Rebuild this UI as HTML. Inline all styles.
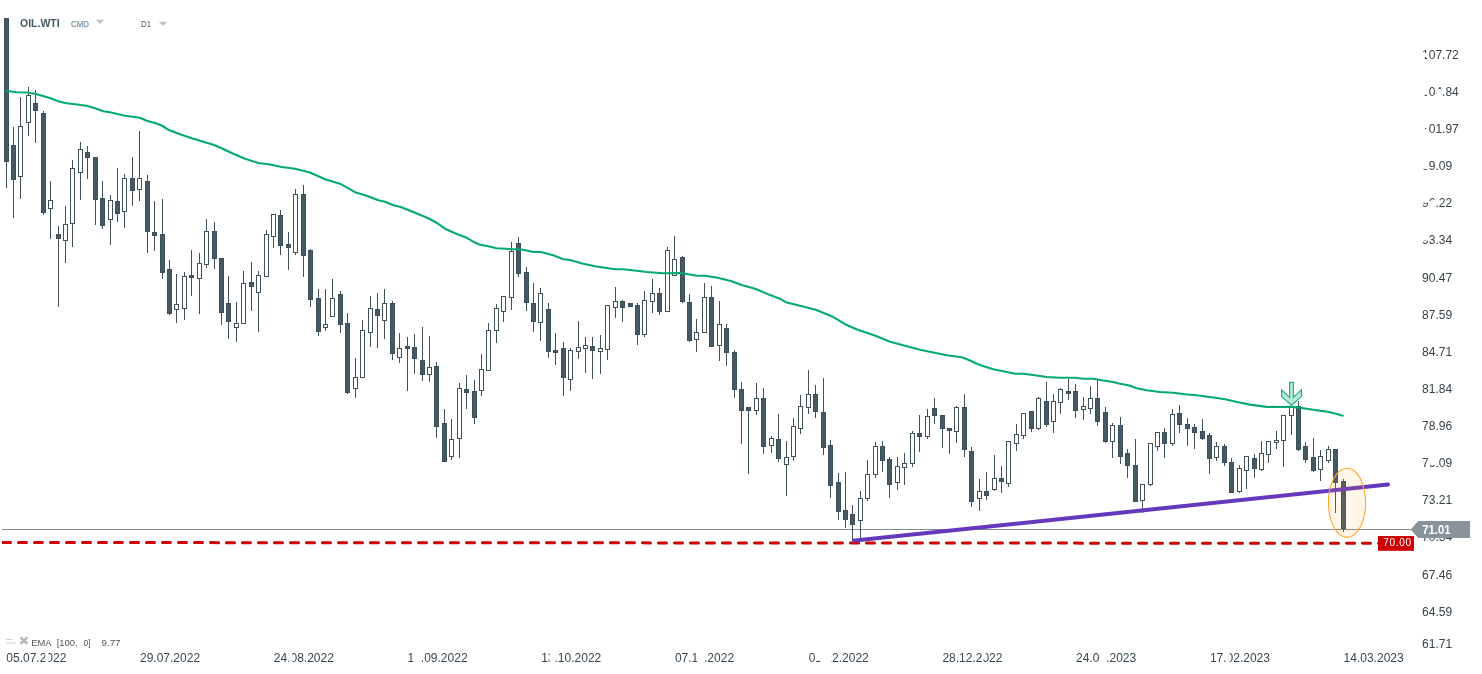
<!DOCTYPE html>
<html lang="en"><head><meta charset="utf-8"><title>OIL.WTI D1</title>
<style>html,body{margin:0;padding:0;background:#fff}body{width:1482px;height:674px;overflow:hidden;position:relative}svg{display:block;position:absolute;left:0;top:0}text{font-family:"Liberation Sans",sans-serif}</style>
</head><body>
<svg width="1482" height="674" viewBox="0 0 1482 674">
<rect width="1482" height="674" fill="#fff"/>
<rect x="2" y="529" width="1411" height="1" fill="#7f8d93"/>
<g shape-rendering="crispEdges">
<rect x="6" y="18" width="1" height="170" fill="#405159"/>
<rect x="4" y="18" width="5" height="144" fill="#3c505b"/>
<rect x="5" y="19" width="3" height="142" fill="#465a65"/>
<rect x="13" y="127" width="1" height="91" fill="#405159"/>
<rect x="11" y="145" width="5" height="35" fill="#3c505b"/>
<rect x="12" y="146" width="3" height="33" fill="#465a65"/>
<rect x="20" y="97" width="1" height="29" fill="#405159"/>
<rect x="20" y="177" width="1" height="22" fill="#405159"/>
<rect x="18.5" y="126.5" width="4" height="50" fill="#fff" stroke="#405159" stroke-width="1"/>
<rect x="28" y="87" width="1" height="8" fill="#405159"/>
<rect x="28" y="123" width="1" height="13" fill="#405159"/>
<rect x="26.5" y="95.5" width="4" height="27" fill="#fff" stroke="#405159" stroke-width="1"/>
<rect x="35" y="90" width="1" height="53" fill="#405159"/>
<rect x="33" y="103" width="5" height="8" fill="#3c505b"/>
<rect x="34" y="104" width="3" height="6" fill="#465a65"/>
<rect x="43" y="111" width="1" height="104" fill="#405159"/>
<rect x="41" y="113" width="5" height="100" fill="#3c505b"/>
<rect x="42" y="114" width="3" height="98" fill="#465a65"/>
<rect x="50" y="181" width="1" height="19" fill="#405159"/>
<rect x="50" y="209" width="1" height="30" fill="#405159"/>
<rect x="48.5" y="200.5" width="4" height="8" fill="#fff" stroke="#405159" stroke-width="1"/>
<rect x="58" y="226" width="1" height="81" fill="#405159"/>
<rect x="56" y="234" width="5" height="5" fill="#3c505b"/>
<rect x="57" y="235" width="3" height="3" fill="#465a65"/>
<rect x="65" y="206" width="1" height="18" fill="#405159"/>
<rect x="65" y="241" width="1" height="22" fill="#405159"/>
<rect x="63.5" y="224.5" width="4" height="16" fill="#fff" stroke="#405159" stroke-width="1"/>
<rect x="72" y="160" width="1" height="8" fill="#405159"/>
<rect x="72" y="224" width="1" height="23" fill="#405159"/>
<rect x="70.5" y="168.5" width="4" height="55" fill="#fff" stroke="#405159" stroke-width="1"/>
<rect x="80" y="142" width="1" height="7" fill="#405159"/>
<rect x="80" y="173" width="1" height="27" fill="#405159"/>
<rect x="78.5" y="149.5" width="4" height="23" fill="#fff" stroke="#405159" stroke-width="1"/>
<rect x="87" y="146" width="1" height="33" fill="#405159"/>
<rect x="85" y="152" width="5" height="6" fill="#3c505b"/>
<rect x="86" y="153" width="3" height="4" fill="#465a65"/>
<rect x="95" y="157" width="1" height="68" fill="#405159"/>
<rect x="93" y="157" width="5" height="43" fill="#3c505b"/>
<rect x="94" y="158" width="3" height="41" fill="#465a65"/>
<rect x="102" y="181" width="1" height="48" fill="#405159"/>
<rect x="100" y="198" width="5" height="28" fill="#3c505b"/>
<rect x="101" y="199" width="3" height="26" fill="#465a65"/>
<rect x="110" y="195" width="1" height="5" fill="#405159"/>
<rect x="110" y="220" width="1" height="25" fill="#405159"/>
<rect x="108.5" y="200.5" width="4" height="19" fill="#fff" stroke="#405159" stroke-width="1"/>
<rect x="117" y="168" width="1" height="54" fill="#405159"/>
<rect x="115" y="201" width="5" height="13" fill="#3c505b"/>
<rect x="116" y="202" width="3" height="11" fill="#465a65"/>
<rect x="124" y="174" width="1" height="4" fill="#405159"/>
<rect x="124" y="212" width="1" height="16" fill="#405159"/>
<rect x="122.5" y="178.5" width="4" height="33" fill="#fff" stroke="#405159" stroke-width="1"/>
<rect x="132" y="157" width="1" height="49" fill="#405159"/>
<rect x="130" y="178" width="5" height="13" fill="#3c505b"/>
<rect x="131" y="179" width="3" height="11" fill="#465a65"/>
<rect x="139" y="131" width="1" height="47" fill="#405159"/>
<rect x="139" y="190" width="1" height="11" fill="#405159"/>
<rect x="137.5" y="178.5" width="4" height="11" fill="#fff" stroke="#405159" stroke-width="1"/>
<rect x="147" y="175" width="1" height="78" fill="#405159"/>
<rect x="145" y="181" width="5" height="51" fill="#3c505b"/>
<rect x="146" y="182" width="3" height="49" fill="#465a65"/>
<rect x="154" y="201" width="1" height="50" fill="#405159"/>
<rect x="152" y="232" width="5" height="4" fill="#3c505b"/>
<rect x="153" y="233" width="3" height="2" fill="#465a65"/>
<rect x="162" y="199" width="1" height="80" fill="#405159"/>
<rect x="160" y="234" width="5" height="39" fill="#3c505b"/>
<rect x="161" y="235" width="3" height="37" fill="#465a65"/>
<rect x="169" y="260" width="1" height="55" fill="#405159"/>
<rect x="167" y="269" width="5" height="45" fill="#3c505b"/>
<rect x="168" y="270" width="3" height="43" fill="#465a65"/>
<rect x="176" y="274" width="1" height="30" fill="#405159"/>
<rect x="176" y="310" width="1" height="13" fill="#405159"/>
<rect x="174.5" y="304.5" width="4" height="5" fill="#fff" stroke="#405159" stroke-width="1"/>
<rect x="184" y="272" width="1" height="4" fill="#405159"/>
<rect x="184" y="309" width="1" height="11" fill="#405159"/>
<rect x="182.5" y="276.5" width="4" height="32" fill="#fff" stroke="#405159" stroke-width="1"/>
<rect x="191" y="250" width="1" height="46" fill="#405159"/>
<rect x="189" y="275" width="5" height="3" fill="#3c505b"/>
<rect x="190" y="276" width="3" height="1" fill="#465a65"/>
<rect x="199" y="253" width="1" height="10" fill="#405159"/>
<rect x="199" y="279" width="1" height="35" fill="#405159"/>
<rect x="197.5" y="263.5" width="4" height="15" fill="#fff" stroke="#405159" stroke-width="1"/>
<rect x="206" y="219" width="1" height="12" fill="#405159"/>
<rect x="206" y="265" width="1" height="3" fill="#405159"/>
<rect x="204.5" y="231.5" width="4" height="33" fill="#fff" stroke="#405159" stroke-width="1"/>
<rect x="214" y="222" width="1" height="47" fill="#405159"/>
<rect x="212" y="231" width="5" height="28" fill="#3c505b"/>
<rect x="213" y="232" width="3" height="26" fill="#465a65"/>
<rect x="221" y="258" width="1" height="67" fill="#405159"/>
<rect x="219" y="258" width="5" height="55" fill="#3c505b"/>
<rect x="220" y="259" width="3" height="53" fill="#465a65"/>
<rect x="228" y="276" width="1" height="63" fill="#405159"/>
<rect x="226" y="303" width="5" height="19" fill="#3c505b"/>
<rect x="227" y="304" width="3" height="17" fill="#465a65"/>
<rect x="236" y="302" width="1" height="21" fill="#405159"/>
<rect x="236" y="328" width="1" height="14" fill="#405159"/>
<rect x="234.5" y="323.5" width="4" height="4" fill="#fff" stroke="#405159" stroke-width="1"/>
<rect x="243" y="271" width="1" height="12" fill="#405159"/>
<rect x="241.5" y="283.5" width="4" height="40" fill="#fff" stroke="#405159" stroke-width="1"/>
<rect x="251" y="262" width="1" height="49" fill="#405159"/>
<rect x="249" y="282" width="5" height="5" fill="#3c505b"/>
<rect x="250" y="283" width="3" height="3" fill="#465a65"/>
<rect x="258" y="271" width="1" height="4" fill="#405159"/>
<rect x="258" y="293" width="1" height="39" fill="#405159"/>
<rect x="256.5" y="275.5" width="4" height="17" fill="#fff" stroke="#405159" stroke-width="1"/>
<rect x="266" y="230" width="1" height="4" fill="#405159"/>
<rect x="264.5" y="234.5" width="4" height="42" fill="#fff" stroke="#405159" stroke-width="1"/>
<rect x="273" y="237" width="1" height="11" fill="#405159"/>
<rect x="271.5" y="214.5" width="4" height="22" fill="#fff" stroke="#405159" stroke-width="1"/>
<rect x="280" y="210" width="1" height="45" fill="#405159"/>
<rect x="278" y="215" width="5" height="31" fill="#3c505b"/>
<rect x="279" y="216" width="3" height="29" fill="#465a65"/>
<rect x="288" y="232" width="1" height="38" fill="#405159"/>
<rect x="286" y="244" width="5" height="4" fill="#3c505b"/>
<rect x="287" y="245" width="3" height="2" fill="#465a65"/>
<rect x="295" y="189" width="1" height="5" fill="#405159"/>
<rect x="295" y="253" width="1" height="2" fill="#405159"/>
<rect x="293.5" y="194.5" width="4" height="58" fill="#fff" stroke="#405159" stroke-width="1"/>
<rect x="303" y="185" width="1" height="92" fill="#405159"/>
<rect x="301" y="194" width="5" height="62" fill="#3c505b"/>
<rect x="302" y="195" width="3" height="60" fill="#465a65"/>
<rect x="310" y="249" width="1" height="58" fill="#405159"/>
<rect x="308" y="250" width="5" height="50" fill="#3c505b"/>
<rect x="309" y="251" width="3" height="48" fill="#465a65"/>
<rect x="318" y="289" width="1" height="47" fill="#405159"/>
<rect x="316" y="298" width="5" height="34" fill="#3c505b"/>
<rect x="317" y="299" width="3" height="32" fill="#465a65"/>
<rect x="325" y="289" width="1" height="35" fill="#405159"/>
<rect x="325" y="328" width="1" height="3" fill="#405159"/>
<rect x="323.5" y="324.5" width="4" height="3" fill="#fff" stroke="#405159" stroke-width="1"/>
<rect x="332" y="279" width="1" height="19" fill="#405159"/>
<rect x="330.5" y="298.5" width="4" height="18" fill="#fff" stroke="#405159" stroke-width="1"/>
<rect x="340" y="291" width="1" height="42" fill="#405159"/>
<rect x="338" y="294" width="5" height="31" fill="#3c505b"/>
<rect x="339" y="295" width="3" height="29" fill="#465a65"/>
<rect x="347" y="313" width="1" height="81" fill="#405159"/>
<rect x="345" y="323" width="5" height="70" fill="#3c505b"/>
<rect x="346" y="324" width="3" height="68" fill="#465a65"/>
<rect x="355" y="358" width="1" height="19" fill="#405159"/>
<rect x="355" y="389" width="1" height="9" fill="#405159"/>
<rect x="353.5" y="377.5" width="4" height="11" fill="#fff" stroke="#405159" stroke-width="1"/>
<rect x="362" y="320" width="1" height="10" fill="#405159"/>
<rect x="360.5" y="330.5" width="4" height="47" fill="#fff" stroke="#405159" stroke-width="1"/>
<rect x="370" y="296" width="1" height="12" fill="#405159"/>
<rect x="370" y="333" width="1" height="14" fill="#405159"/>
<rect x="368.5" y="308.5" width="4" height="24" fill="#fff" stroke="#405159" stroke-width="1"/>
<rect x="377" y="293" width="1" height="55" fill="#405159"/>
<rect x="375" y="309" width="5" height="7" fill="#3c505b"/>
<rect x="376" y="310" width="3" height="5" fill="#465a65"/>
<rect x="384" y="289" width="1" height="14" fill="#405159"/>
<rect x="384" y="321" width="1" height="18" fill="#405159"/>
<rect x="382.5" y="303.5" width="4" height="17" fill="#fff" stroke="#405159" stroke-width="1"/>
<rect x="392" y="301" width="1" height="59" fill="#405159"/>
<rect x="390" y="303" width="5" height="51" fill="#3c505b"/>
<rect x="391" y="304" width="3" height="49" fill="#465a65"/>
<rect x="399" y="333" width="1" height="15" fill="#405159"/>
<rect x="399" y="358" width="1" height="5" fill="#405159"/>
<rect x="397.5" y="348.5" width="4" height="9" fill="#fff" stroke="#405159" stroke-width="1"/>
<rect x="407" y="337" width="1" height="54" fill="#405159"/>
<rect x="405" y="346" width="5" height="3" fill="#3c505b"/>
<rect x="406" y="347" width="3" height="1" fill="#465a65"/>
<rect x="414" y="334" width="1" height="40" fill="#405159"/>
<rect x="412" y="347" width="5" height="12" fill="#3c505b"/>
<rect x="413" y="348" width="3" height="10" fill="#465a65"/>
<rect x="422" y="327" width="1" height="54" fill="#405159"/>
<rect x="420" y="360" width="5" height="15" fill="#3c505b"/>
<rect x="421" y="361" width="3" height="13" fill="#465a65"/>
<rect x="429" y="336" width="1" height="31" fill="#405159"/>
<rect x="429" y="375" width="1" height="7" fill="#405159"/>
<rect x="427.5" y="367.5" width="4" height="7" fill="#fff" stroke="#405159" stroke-width="1"/>
<rect x="436" y="362" width="1" height="76" fill="#405159"/>
<rect x="434" y="366" width="5" height="61" fill="#3c505b"/>
<rect x="435" y="367" width="3" height="59" fill="#465a65"/>
<rect x="444" y="409" width="1" height="53" fill="#405159"/>
<rect x="442" y="423" width="5" height="39" fill="#3c505b"/>
<rect x="443" y="424" width="3" height="37" fill="#465a65"/>
<rect x="451" y="419" width="1" height="20" fill="#405159"/>
<rect x="451" y="457" width="1" height="3" fill="#405159"/>
<rect x="449.5" y="439.5" width="4" height="17" fill="#fff" stroke="#405159" stroke-width="1"/>
<rect x="459" y="383" width="1" height="5" fill="#405159"/>
<rect x="459" y="439" width="1" height="19" fill="#405159"/>
<rect x="457.5" y="388.5" width="4" height="50" fill="#fff" stroke="#405159" stroke-width="1"/>
<rect x="466" y="375" width="1" height="34" fill="#405159"/>
<rect x="464" y="389" width="5" height="4" fill="#3c505b"/>
<rect x="465" y="390" width="3" height="2" fill="#465a65"/>
<rect x="474" y="380" width="1" height="44" fill="#405159"/>
<rect x="472" y="391" width="5" height="27" fill="#3c505b"/>
<rect x="473" y="392" width="3" height="25" fill="#465a65"/>
<rect x="481" y="354" width="1" height="15" fill="#405159"/>
<rect x="481" y="391" width="1" height="5" fill="#405159"/>
<rect x="479.5" y="369.5" width="4" height="21" fill="#fff" stroke="#405159" stroke-width="1"/>
<rect x="488" y="323" width="1" height="7" fill="#405159"/>
<rect x="486.5" y="330.5" width="4" height="40" fill="#fff" stroke="#405159" stroke-width="1"/>
<rect x="496" y="304" width="1" height="4" fill="#405159"/>
<rect x="496" y="331" width="1" height="12" fill="#405159"/>
<rect x="494.5" y="308.5" width="4" height="22" fill="#fff" stroke="#405159" stroke-width="1"/>
<rect x="503" y="312" width="1" height="10" fill="#405159"/>
<rect x="501.5" y="296.5" width="4" height="15" fill="#fff" stroke="#405159" stroke-width="1"/>
<rect x="511" y="242" width="1" height="9" fill="#405159"/>
<rect x="511" y="298" width="1" height="12" fill="#405159"/>
<rect x="509.5" y="251.5" width="4" height="46" fill="#fff" stroke="#405159" stroke-width="1"/>
<rect x="518" y="237" width="1" height="40" fill="#405159"/>
<rect x="516" y="243" width="5" height="31" fill="#3c505b"/>
<rect x="517" y="244" width="3" height="29" fill="#465a65"/>
<rect x="526" y="267" width="1" height="44" fill="#405159"/>
<rect x="524" y="272" width="5" height="31" fill="#3c505b"/>
<rect x="525" y="273" width="3" height="29" fill="#465a65"/>
<rect x="533" y="283" width="1" height="49" fill="#405159"/>
<rect x="531" y="303" width="5" height="19" fill="#3c505b"/>
<rect x="532" y="304" width="3" height="17" fill="#465a65"/>
<rect x="540" y="288" width="1" height="5" fill="#405159"/>
<rect x="540" y="323" width="1" height="18" fill="#405159"/>
<rect x="538.5" y="293.5" width="4" height="29" fill="#fff" stroke="#405159" stroke-width="1"/>
<rect x="548" y="303" width="1" height="55" fill="#405159"/>
<rect x="546" y="309" width="5" height="43" fill="#3c505b"/>
<rect x="547" y="310" width="3" height="41" fill="#465a65"/>
<rect x="555" y="333" width="1" height="32" fill="#405159"/>
<rect x="553" y="350" width="5" height="3" fill="#3c505b"/>
<rect x="554" y="351" width="3" height="1" fill="#465a65"/>
<rect x="563" y="342" width="1" height="54" fill="#405159"/>
<rect x="561" y="348" width="5" height="30" fill="#3c505b"/>
<rect x="562" y="349" width="3" height="28" fill="#465a65"/>
<rect x="570" y="348" width="1" height="2" fill="#405159"/>
<rect x="570" y="380" width="1" height="11" fill="#405159"/>
<rect x="568.5" y="350.5" width="4" height="29" fill="#fff" stroke="#405159" stroke-width="1"/>
<rect x="578" y="321" width="1" height="26" fill="#405159"/>
<rect x="578" y="352" width="1" height="7" fill="#405159"/>
<rect x="576.5" y="347.5" width="4" height="4" fill="#fff" stroke="#405159" stroke-width="1"/>
<rect x="585" y="337" width="1" height="8" fill="#405159"/>
<rect x="585" y="349" width="1" height="24" fill="#405159"/>
<rect x="583.5" y="345.5" width="4" height="3" fill="#fff" stroke="#405159" stroke-width="1"/>
<rect x="592" y="337" width="1" height="42" fill="#405159"/>
<rect x="590" y="346" width="5" height="5" fill="#3c505b"/>
<rect x="591" y="347" width="3" height="3" fill="#465a65"/>
<rect x="600" y="335" width="1" height="13" fill="#405159"/>
<rect x="600" y="352" width="1" height="22" fill="#405159"/>
<rect x="598.5" y="348.5" width="4" height="3" fill="#fff" stroke="#405159" stroke-width="1"/>
<rect x="607" y="350" width="1" height="10" fill="#405159"/>
<rect x="605.5" y="305.5" width="4" height="44" fill="#fff" stroke="#405159" stroke-width="1"/>
<rect x="615" y="287" width="1" height="14" fill="#405159"/>
<rect x="615" y="308" width="1" height="10" fill="#405159"/>
<rect x="613.5" y="301.5" width="4" height="6" fill="#fff" stroke="#405159" stroke-width="1"/>
<rect x="622" y="300" width="1" height="22" fill="#405159"/>
<rect x="620" y="301" width="5" height="7" fill="#3c505b"/>
<rect x="621" y="302" width="3" height="5" fill="#465a65"/>
<rect x="630" y="303" width="1" height="4" fill="#405159"/>
<rect x="628" y="303" width="5" height="4" fill="#3c505b"/>
<rect x="629" y="304" width="3" height="2" fill="#465a65"/>
<rect x="637" y="303" width="1" height="42" fill="#405159"/>
<rect x="635" y="305" width="5" height="30" fill="#3c505b"/>
<rect x="636" y="306" width="3" height="28" fill="#465a65"/>
<rect x="644" y="291" width="1" height="9" fill="#405159"/>
<rect x="644" y="335" width="1" height="2" fill="#405159"/>
<rect x="642.5" y="300.5" width="4" height="34" fill="#fff" stroke="#405159" stroke-width="1"/>
<rect x="652" y="279" width="1" height="14" fill="#405159"/>
<rect x="652" y="302" width="1" height="11" fill="#405159"/>
<rect x="650.5" y="293.5" width="4" height="8" fill="#fff" stroke="#405159" stroke-width="1"/>
<rect x="659" y="288" width="1" height="27" fill="#405159"/>
<rect x="657" y="293" width="5" height="19" fill="#3c505b"/>
<rect x="658" y="294" width="3" height="17" fill="#465a65"/>
<rect x="667" y="247" width="1" height="3" fill="#405159"/>
<rect x="665.5" y="250.5" width="4" height="61" fill="#fff" stroke="#405159" stroke-width="1"/>
<rect x="674" y="236" width="1" height="23" fill="#405159"/>
<rect x="672.5" y="259.5" width="4" height="16" fill="#fff" stroke="#405159" stroke-width="1"/>
<rect x="682" y="256" width="1" height="47" fill="#405159"/>
<rect x="680" y="257" width="5" height="45" fill="#3c505b"/>
<rect x="681" y="258" width="3" height="43" fill="#465a65"/>
<rect x="689" y="294" width="1" height="48" fill="#405159"/>
<rect x="687" y="302" width="5" height="39" fill="#3c505b"/>
<rect x="688" y="303" width="3" height="37" fill="#465a65"/>
<rect x="696" y="319" width="1" height="13" fill="#405159"/>
<rect x="696" y="340" width="1" height="12" fill="#405159"/>
<rect x="694.5" y="332.5" width="4" height="7" fill="#fff" stroke="#405159" stroke-width="1"/>
<rect x="704" y="283" width="1" height="14" fill="#405159"/>
<rect x="702.5" y="297.5" width="4" height="35" fill="#fff" stroke="#405159" stroke-width="1"/>
<rect x="711" y="286" width="1" height="61" fill="#405159"/>
<rect x="709" y="297" width="5" height="50" fill="#3c505b"/>
<rect x="710" y="298" width="3" height="48" fill="#465a65"/>
<rect x="719" y="301" width="1" height="23" fill="#405159"/>
<rect x="719" y="346" width="1" height="15" fill="#405159"/>
<rect x="717.5" y="324.5" width="4" height="21" fill="#fff" stroke="#405159" stroke-width="1"/>
<rect x="726" y="324" width="1" height="42" fill="#405159"/>
<rect x="724" y="328" width="5" height="25" fill="#3c505b"/>
<rect x="725" y="329" width="3" height="23" fill="#465a65"/>
<rect x="734" y="350" width="1" height="48" fill="#405159"/>
<rect x="732" y="352" width="5" height="38" fill="#3c505b"/>
<rect x="733" y="353" width="3" height="36" fill="#465a65"/>
<rect x="741" y="382" width="1" height="62" fill="#405159"/>
<rect x="739" y="389" width="5" height="22" fill="#3c505b"/>
<rect x="740" y="390" width="3" height="20" fill="#465a65"/>
<rect x="748" y="407" width="1" height="67" fill="#405159"/>
<rect x="746" y="407" width="5" height="4" fill="#3c505b"/>
<rect x="747" y="408" width="3" height="2" fill="#465a65"/>
<rect x="756" y="383" width="1" height="15" fill="#405159"/>
<rect x="756" y="411" width="1" height="4" fill="#405159"/>
<rect x="754.5" y="398.5" width="4" height="12" fill="#fff" stroke="#405159" stroke-width="1"/>
<rect x="763" y="388" width="1" height="66" fill="#405159"/>
<rect x="761" y="398" width="5" height="49" fill="#3c505b"/>
<rect x="762" y="399" width="3" height="47" fill="#465a65"/>
<rect x="771" y="436" width="1" height="2" fill="#405159"/>
<rect x="771" y="446" width="1" height="7" fill="#405159"/>
<rect x="769.5" y="438.5" width="4" height="7" fill="#fff" stroke="#405159" stroke-width="1"/>
<rect x="778" y="414" width="1" height="48" fill="#405159"/>
<rect x="776" y="439" width="5" height="20" fill="#3c505b"/>
<rect x="777" y="440" width="3" height="18" fill="#465a65"/>
<rect x="786" y="441" width="1" height="16" fill="#405159"/>
<rect x="786" y="465" width="1" height="31" fill="#405159"/>
<rect x="784.5" y="457.5" width="4" height="7" fill="#fff" stroke="#405159" stroke-width="1"/>
<rect x="793" y="418" width="1" height="8" fill="#405159"/>
<rect x="793" y="457" width="1" height="4" fill="#405159"/>
<rect x="791.5" y="426.5" width="4" height="30" fill="#fff" stroke="#405159" stroke-width="1"/>
<rect x="800" y="395" width="1" height="11" fill="#405159"/>
<rect x="800" y="429" width="1" height="5" fill="#405159"/>
<rect x="798.5" y="406.5" width="4" height="22" fill="#fff" stroke="#405159" stroke-width="1"/>
<rect x="808" y="370" width="1" height="24" fill="#405159"/>
<rect x="808" y="408" width="1" height="6" fill="#405159"/>
<rect x="806.5" y="394.5" width="4" height="13" fill="#fff" stroke="#405159" stroke-width="1"/>
<rect x="815" y="385" width="1" height="33" fill="#405159"/>
<rect x="813" y="394" width="5" height="18" fill="#3c505b"/>
<rect x="814" y="395" width="3" height="16" fill="#465a65"/>
<rect x="823" y="378" width="1" height="77" fill="#405159"/>
<rect x="821" y="412" width="5" height="36" fill="#3c505b"/>
<rect x="822" y="413" width="3" height="34" fill="#465a65"/>
<rect x="830" y="440" width="1" height="58" fill="#405159"/>
<rect x="828" y="445" width="5" height="41" fill="#3c505b"/>
<rect x="829" y="446" width="3" height="39" fill="#465a65"/>
<rect x="838" y="473" width="1" height="47" fill="#405159"/>
<rect x="836" y="482" width="5" height="30" fill="#3c505b"/>
<rect x="837" y="483" width="3" height="28" fill="#465a65"/>
<rect x="845" y="472" width="1" height="56" fill="#405159"/>
<rect x="843" y="510" width="5" height="10" fill="#3c505b"/>
<rect x="844" y="511" width="3" height="8" fill="#465a65"/>
<rect x="852" y="505" width="1" height="36" fill="#405159"/>
<rect x="850" y="514" width="5" height="11" fill="#3c505b"/>
<rect x="851" y="515" width="3" height="9" fill="#465a65"/>
<rect x="860" y="491" width="1" height="7" fill="#405159"/>
<rect x="860" y="521" width="1" height="18" fill="#405159"/>
<rect x="858.5" y="498.5" width="4" height="22" fill="#fff" stroke="#405159" stroke-width="1"/>
<rect x="867" y="460" width="1" height="14" fill="#405159"/>
<rect x="867" y="499" width="1" height="2" fill="#405159"/>
<rect x="865.5" y="474.5" width="4" height="24" fill="#fff" stroke="#405159" stroke-width="1"/>
<rect x="875" y="442" width="1" height="4" fill="#405159"/>
<rect x="875" y="475" width="1" height="3" fill="#405159"/>
<rect x="873.5" y="446.5" width="4" height="28" fill="#fff" stroke="#405159" stroke-width="1"/>
<rect x="882" y="441" width="1" height="31" fill="#405159"/>
<rect x="880" y="446" width="5" height="15" fill="#3c505b"/>
<rect x="881" y="447" width="3" height="13" fill="#465a65"/>
<rect x="889" y="457" width="1" height="41" fill="#405159"/>
<rect x="887" y="459" width="5" height="26" fill="#3c505b"/>
<rect x="888" y="460" width="3" height="24" fill="#465a65"/>
<rect x="897" y="457" width="1" height="9" fill="#405159"/>
<rect x="897" y="483" width="1" height="7" fill="#405159"/>
<rect x="895.5" y="466.5" width="4" height="16" fill="#fff" stroke="#405159" stroke-width="1"/>
<rect x="904" y="453" width="1" height="10" fill="#405159"/>
<rect x="904" y="468" width="1" height="17" fill="#405159"/>
<rect x="902.5" y="463.5" width="4" height="4" fill="#fff" stroke="#405159" stroke-width="1"/>
<rect x="912" y="431" width="1" height="2" fill="#405159"/>
<rect x="912" y="464" width="1" height="3" fill="#405159"/>
<rect x="910.5" y="433.5" width="4" height="30" fill="#fff" stroke="#405159" stroke-width="1"/>
<rect x="919" y="415" width="1" height="37" fill="#405159"/>
<rect x="917" y="433" width="5" height="4" fill="#3c505b"/>
<rect x="918" y="434" width="3" height="2" fill="#465a65"/>
<rect x="927" y="409" width="1" height="7" fill="#405159"/>
<rect x="927" y="437" width="1" height="2" fill="#405159"/>
<rect x="925.5" y="416.5" width="4" height="20" fill="#fff" stroke="#405159" stroke-width="1"/>
<rect x="934" y="398" width="1" height="26" fill="#405159"/>
<rect x="932" y="408" width="5" height="8" fill="#3c505b"/>
<rect x="933" y="409" width="3" height="6" fill="#465a65"/>
<rect x="942" y="415" width="1" height="33" fill="#405159"/>
<rect x="940" y="415" width="5" height="14" fill="#3c505b"/>
<rect x="941" y="416" width="3" height="12" fill="#465a65"/>
<rect x="949" y="428" width="1" height="26" fill="#405159"/>
<rect x="947" y="428" width="5" height="3" fill="#3c505b"/>
<rect x="948" y="429" width="3" height="1" fill="#465a65"/>
<rect x="956" y="406" width="1" height="1" fill="#405159"/>
<rect x="956" y="432" width="1" height="11" fill="#405159"/>
<rect x="954.5" y="407.5" width="4" height="24" fill="#fff" stroke="#405159" stroke-width="1"/>
<rect x="964" y="394" width="1" height="63" fill="#405159"/>
<rect x="962" y="407" width="5" height="43" fill="#3c505b"/>
<rect x="963" y="408" width="3" height="41" fill="#465a65"/>
<rect x="971" y="447" width="1" height="60" fill="#405159"/>
<rect x="969" y="451" width="5" height="51" fill="#3c505b"/>
<rect x="970" y="452" width="3" height="49" fill="#465a65"/>
<rect x="979" y="479" width="1" height="12" fill="#405159"/>
<rect x="979" y="499" width="1" height="12" fill="#405159"/>
<rect x="977.5" y="491.5" width="4" height="7" fill="#fff" stroke="#405159" stroke-width="1"/>
<rect x="986" y="472" width="1" height="28" fill="#405159"/>
<rect x="984" y="491" width="5" height="5" fill="#3c505b"/>
<rect x="985" y="492" width="3" height="3" fill="#465a65"/>
<rect x="994" y="455" width="1" height="23" fill="#405159"/>
<rect x="994" y="490" width="1" height="1" fill="#405159"/>
<rect x="992.5" y="478.5" width="4" height="11" fill="#fff" stroke="#405159" stroke-width="1"/>
<rect x="1001" y="466" width="1" height="27" fill="#405159"/>
<rect x="999" y="478" width="5" height="4" fill="#3c505b"/>
<rect x="1000" y="479" width="3" height="2" fill="#465a65"/>
<rect x="1008" y="484" width="1" height="3" fill="#405159"/>
<rect x="1006.5" y="441.5" width="4" height="42" fill="#fff" stroke="#405159" stroke-width="1"/>
<rect x="1016" y="424" width="1" height="10" fill="#405159"/>
<rect x="1016" y="444" width="1" height="7" fill="#405159"/>
<rect x="1014.5" y="434.5" width="4" height="9" fill="#fff" stroke="#405159" stroke-width="1"/>
<rect x="1023" y="436" width="1" height="3" fill="#405159"/>
<rect x="1021.5" y="413.5" width="4" height="22" fill="#fff" stroke="#405159" stroke-width="1"/>
<rect x="1031" y="411" width="1" height="21" fill="#405159"/>
<rect x="1029" y="411" width="5" height="18" fill="#3c505b"/>
<rect x="1030" y="412" width="3" height="16" fill="#465a65"/>
<rect x="1038" y="397" width="1" height="1" fill="#405159"/>
<rect x="1038" y="429" width="1" height="1" fill="#405159"/>
<rect x="1036.5" y="398.5" width="4" height="30" fill="#fff" stroke="#405159" stroke-width="1"/>
<rect x="1046" y="382" width="1" height="45" fill="#405159"/>
<rect x="1044" y="401" width="5" height="24" fill="#3c505b"/>
<rect x="1045" y="402" width="3" height="22" fill="#465a65"/>
<rect x="1053" y="394" width="1" height="7" fill="#405159"/>
<rect x="1053" y="422" width="1" height="11" fill="#405159"/>
<rect x="1051.5" y="401.5" width="4" height="20" fill="#fff" stroke="#405159" stroke-width="1"/>
<rect x="1060" y="388" width="1" height="1" fill="#405159"/>
<rect x="1060" y="403" width="1" height="11" fill="#405159"/>
<rect x="1058.5" y="389.5" width="4" height="13" fill="#fff" stroke="#405159" stroke-width="1"/>
<rect x="1068" y="379" width="1" height="21" fill="#405159"/>
<rect x="1066" y="391" width="5" height="3" fill="#3c505b"/>
<rect x="1067" y="392" width="3" height="1" fill="#465a65"/>
<rect x="1075" y="384" width="1" height="34" fill="#405159"/>
<rect x="1073" y="391" width="5" height="20" fill="#3c505b"/>
<rect x="1074" y="392" width="3" height="18" fill="#465a65"/>
<rect x="1083" y="397" width="1" height="9" fill="#405159"/>
<rect x="1083" y="410" width="1" height="10" fill="#405159"/>
<rect x="1081.5" y="406.5" width="4" height="3" fill="#fff" stroke="#405159" stroke-width="1"/>
<rect x="1090" y="386" width="1" height="12" fill="#405159"/>
<rect x="1090" y="409" width="1" height="5" fill="#405159"/>
<rect x="1088.5" y="398.5" width="4" height="10" fill="#fff" stroke="#405159" stroke-width="1"/>
<rect x="1097" y="380" width="1" height="46" fill="#405159"/>
<rect x="1095" y="398" width="5" height="24" fill="#3c505b"/>
<rect x="1096" y="399" width="3" height="22" fill="#465a65"/>
<rect x="1105" y="407" width="1" height="36" fill="#405159"/>
<rect x="1103" y="412" width="5" height="30" fill="#3c505b"/>
<rect x="1104" y="413" width="3" height="28" fill="#465a65"/>
<rect x="1112" y="423" width="1" height="2" fill="#405159"/>
<rect x="1112" y="442" width="1" height="16" fill="#405159"/>
<rect x="1110.5" y="425.5" width="4" height="16" fill="#fff" stroke="#405159" stroke-width="1"/>
<rect x="1120" y="417" width="1" height="47" fill="#405159"/>
<rect x="1118" y="425" width="5" height="32" fill="#3c505b"/>
<rect x="1119" y="426" width="3" height="30" fill="#465a65"/>
<rect x="1127" y="449" width="1" height="29" fill="#405159"/>
<rect x="1125" y="453" width="5" height="13" fill="#3c505b"/>
<rect x="1126" y="454" width="3" height="11" fill="#465a65"/>
<rect x="1135" y="439" width="1" height="63" fill="#405159"/>
<rect x="1133" y="465" width="5" height="37" fill="#3c505b"/>
<rect x="1134" y="466" width="3" height="35" fill="#465a65"/>
<rect x="1142" y="501" width="1" height="12" fill="#405159"/>
<rect x="1140.5" y="484.5" width="4" height="16" fill="#fff" stroke="#405159" stroke-width="1"/>
<rect x="1150" y="485" width="1" height="1" fill="#405159"/>
<rect x="1148.5" y="443.5" width="4" height="41" fill="#fff" stroke="#405159" stroke-width="1"/>
<rect x="1157" y="447" width="1" height="4" fill="#405159"/>
<rect x="1155.5" y="432.5" width="4" height="14" fill="#fff" stroke="#405159" stroke-width="1"/>
<rect x="1164" y="428" width="1" height="30" fill="#405159"/>
<rect x="1162" y="432" width="5" height="12" fill="#3c505b"/>
<rect x="1163" y="433" width="3" height="10" fill="#465a65"/>
<rect x="1172" y="409" width="1" height="5" fill="#405159"/>
<rect x="1172" y="444" width="1" height="2" fill="#405159"/>
<rect x="1170.5" y="414.5" width="4" height="29" fill="#fff" stroke="#405159" stroke-width="1"/>
<rect x="1179" y="405" width="1" height="28" fill="#405159"/>
<rect x="1177" y="413" width="5" height="12" fill="#3c505b"/>
<rect x="1178" y="414" width="3" height="10" fill="#465a65"/>
<rect x="1187" y="418" width="1" height="28" fill="#405159"/>
<rect x="1185" y="424" width="5" height="5" fill="#3c505b"/>
<rect x="1186" y="425" width="3" height="3" fill="#465a65"/>
<rect x="1194" y="424" width="1" height="25" fill="#405159"/>
<rect x="1192" y="427" width="5" height="6" fill="#3c505b"/>
<rect x="1193" y="428" width="3" height="4" fill="#465a65"/>
<rect x="1202" y="419" width="1" height="21" fill="#405159"/>
<rect x="1200" y="431" width="5" height="8" fill="#3c505b"/>
<rect x="1201" y="432" width="3" height="6" fill="#465a65"/>
<rect x="1209" y="433" width="1" height="41" fill="#405159"/>
<rect x="1207" y="435" width="5" height="24" fill="#3c505b"/>
<rect x="1208" y="436" width="3" height="22" fill="#465a65"/>
<rect x="1216" y="442" width="1" height="4" fill="#405159"/>
<rect x="1216" y="458" width="1" height="3" fill="#405159"/>
<rect x="1214.5" y="446.5" width="4" height="11" fill="#fff" stroke="#405159" stroke-width="1"/>
<rect x="1224" y="444" width="1" height="22" fill="#405159"/>
<rect x="1222" y="446" width="5" height="17" fill="#3c505b"/>
<rect x="1223" y="447" width="3" height="15" fill="#465a65"/>
<rect x="1231" y="458" width="1" height="35" fill="#405159"/>
<rect x="1229" y="462" width="5" height="31" fill="#3c505b"/>
<rect x="1230" y="463" width="3" height="29" fill="#465a65"/>
<rect x="1239" y="465" width="1" height="3" fill="#405159"/>
<rect x="1239" y="492" width="1" height="1" fill="#405159"/>
<rect x="1237.5" y="468.5" width="4" height="23" fill="#fff" stroke="#405159" stroke-width="1"/>
<rect x="1246" y="471" width="1" height="18" fill="#405159"/>
<rect x="1244.5" y="456.5" width="4" height="14" fill="#fff" stroke="#405159" stroke-width="1"/>
<rect x="1254" y="454" width="1" height="24" fill="#405159"/>
<rect x="1252" y="458" width="5" height="11" fill="#3c505b"/>
<rect x="1253" y="459" width="3" height="9" fill="#465a65"/>
<rect x="1261" y="441" width="1" height="12" fill="#405159"/>
<rect x="1261" y="470" width="1" height="1" fill="#405159"/>
<rect x="1259.5" y="453.5" width="4" height="16" fill="#fff" stroke="#405159" stroke-width="1"/>
<rect x="1268" y="455" width="1" height="8" fill="#405159"/>
<rect x="1266.5" y="441.5" width="4" height="13" fill="#fff" stroke="#405159" stroke-width="1"/>
<rect x="1276" y="431" width="1" height="9" fill="#405159"/>
<rect x="1276" y="443" width="1" height="6" fill="#405159"/>
<rect x="1274.5" y="440.5" width="4" height="2" fill="#fff" stroke="#405159" stroke-width="1"/>
<rect x="1283" y="441" width="1" height="26" fill="#405159"/>
<rect x="1281.5" y="415.5" width="4" height="25" fill="#fff" stroke="#405159" stroke-width="1"/>
<rect x="1291" y="403" width="1" height="3" fill="#405159"/>
<rect x="1291" y="416" width="1" height="19" fill="#405159"/>
<rect x="1289.5" y="406.5" width="4" height="9" fill="#fff" stroke="#405159" stroke-width="1"/>
<rect x="1298" y="401" width="1" height="50" fill="#405159"/>
<rect x="1296" y="406" width="5" height="44" fill="#3c505b"/>
<rect x="1297" y="407" width="3" height="42" fill="#465a65"/>
<rect x="1305" y="442" width="1" height="21" fill="#405159"/>
<rect x="1303" y="446" width="5" height="14" fill="#3c505b"/>
<rect x="1304" y="447" width="3" height="12" fill="#465a65"/>
<rect x="1313" y="438" width="1" height="34" fill="#405159"/>
<rect x="1311" y="457" width="5" height="14" fill="#3c505b"/>
<rect x="1312" y="458" width="3" height="12" fill="#465a65"/>
<rect x="1320" y="450" width="1" height="6" fill="#405159"/>
<rect x="1320" y="470" width="1" height="11" fill="#405159"/>
<rect x="1318.5" y="456.5" width="4" height="13" fill="#fff" stroke="#405159" stroke-width="1"/>
<rect x="1328" y="446" width="1" height="3" fill="#405159"/>
<rect x="1328" y="461" width="1" height="2" fill="#405159"/>
<rect x="1326.5" y="449.5" width="4" height="11" fill="#fff" stroke="#405159" stroke-width="1"/>
<rect x="1335" y="449" width="1" height="64" fill="#405159"/>
<rect x="1333" y="449" width="5" height="34" fill="#3c505b"/>
<rect x="1334" y="450" width="3" height="32" fill="#465a65"/>
<rect x="1343" y="479" width="1" height="53" fill="#405159"/>
<rect x="1341" y="481" width="5" height="48" fill="#3c505b"/>
<rect x="1342" y="482" width="3" height="46" fill="#465a65"/>
</g>
<polyline points="6.3,90.8 16.7,92.2 26.7,92.5 35.0,93.8 48.3,97.5 58.3,101.2 65.0,103.0 75.0,104.2 86.7,105.8 95.0,108.3 103.3,111.2 110.0,112.2 125.0,115.8 140.0,117.8 146.7,120.8 155.0,123.0 161.7,125.5 168.3,129.7 180.0,134.2 191.7,138.3 200.0,140.8 213.3,144.7 221.7,148.3 233.3,153.7 245.0,158.7 258.3,163.0 270.0,164.5 281.7,167.0 295.0,168.7 310.0,172.5 325.0,179.2 340.0,183.7 355.0,192.2 366.7,195.8 378.3,200.3 385.0,201.7 393.3,205.3 400.0,206.7 413.3,212.0 428.3,218.3 436.7,222.8 445.0,228.7 455.0,233.3 466.7,237.8 473.3,241.7 480.0,244.7 488.3,246.3 496.7,248.3 513.3,249.2 523.3,249.7 533.3,252.0 540.8,252.0 553.3,255.3 563.3,259.2 570.0,260.0 583.3,263.7 595.0,266.2 615.0,269.2 623.3,269.2 636.7,270.8 646.7,272.0 663.3,273.3 680.0,273.0 688.3,274.2 696.7,275.8 705.0,275.8 716.7,277.5 731.7,281.3 741.7,285.0 755.0,288.7 770.0,295.0 780.0,298.7 785.8,302.2 800.0,305.8 815.0,309.5 831.7,316.2 845.0,324.2 858.3,330.0 866.7,332.8 876.7,336.2 890.0,341.7 905.0,345.8 920.0,349.7 933.3,352.5 947.0,355.3 961.7,357.2 967.0,359.2 980.0,365.0 993.3,369.2 1003.3,371.3 1015.0,373.8 1023.3,373.7 1035.0,375.3 1046.7,377.0 1060.0,377.8 1075.0,377.8 1083.3,378.7 1093.3,378.8 1101.7,380.3 1113.3,382.0 1120.0,383.8 1128.3,385.3 1136.7,388.3 1146.7,390.3 1160.0,392.0 1173.3,392.8 1185.0,394.2 1196.7,395.3 1213.3,397.5 1225.0,399.2 1238.3,402.2 1250.0,404.6 1266.7,406.9 1280.0,407.0 1291.7,406.9 1300.0,407.8 1313.3,409.8 1326.7,411.6 1335.0,413.5 1342.8,415.8" fill="none" stroke="#04ab70" stroke-width="2.1" stroke-linejoin="round" stroke-linecap="round"/>
<clipPath id="cl"><rect x="2" y="530" width="1400" height="30"/></clipPath>
<line x1="2.5" y1="542.5" x2="1380" y2="543.3" stroke="#ce0000" stroke-width="3" stroke-dasharray="8 8" stroke-linecap="round" clip-path="url(#cl)"/>
<line x1="852.5" y1="540.8" x2="1388" y2="484.6" stroke="#6638bd" stroke-width="4" stroke-linecap="butt"/>
<circle cx="1388" cy="484.6" r="2" fill="#6638bd"/>
<path d="M1289.6 382.4 H1293.4 V397.4 L1301.4 389.9 V396.6 L1291.5 405.3 L1281.6 396.6 V389.9 L1289.6 397.4 Z" fill="#b4e8d5" fill-opacity="0.9" stroke="#16b585" stroke-width="1.15" stroke-linejoin="miter"/>
<ellipse cx="1347" cy="502.8" rx="18.6" ry="34.6" fill="#ff9d2e" fill-opacity="0.105" stroke="#ffa52a" stroke-width="1.1"/>
<text x="1422.1" y="58.8" font-size="12" fill="#38434a">107.72</text>
<text x="1422.1" y="95.9" font-size="12" fill="#38434a">104.84</text>
<text x="1422.1" y="133.0" font-size="12" fill="#38434a">101.97</text>
<text x="1422.1" y="170.1" font-size="12" fill="#38434a">99.09</text>
<text x="1422.1" y="207.3" font-size="12" fill="#38434a">96.22</text>
<text x="1422.1" y="244.4" font-size="12" fill="#38434a">93.34</text>
<text x="1422.1" y="281.5" font-size="12" fill="#38434a">90.47</text>
<text x="1422.1" y="318.7" font-size="12" fill="#38434a">87.59</text>
<text x="1422.1" y="355.8" font-size="12" fill="#38434a">84.71</text>
<text x="1422.1" y="392.9" font-size="12" fill="#38434a">81.84</text>
<text x="1422.1" y="430.1" font-size="12" fill="#38434a">78.96</text>
<text x="1422.1" y="467.2" font-size="12" fill="#38434a">76.09</text>
<text x="1422.1" y="504.3" font-size="12" fill="#38434a">73.21</text>
<text x="1422.1" y="541.4" font-size="12" fill="#38434a">70.34</text>
<text x="1422.1" y="578.6" font-size="12" fill="#38434a">67.46</text>
<text x="1422.1" y="615.7" font-size="12" fill="#38434a">64.59</text>
<text x="1422.1" y="647.9" font-size="12" fill="#38434a">61.71</text>
<path d="M1410.7 529.5 L1418.2 521 H1470 V538 H1418.2 Z" fill="#87959b"/>
<text x="1422.2" y="533.8" font-size="12" font-weight="bold" fill="#fff" textLength="28.4" lengthAdjust="spacingAndGlyphs">71.01</text>
<rect x="1378" y="536" width="36" height="14.8" fill="#ce0000"/>
<text x="1383.2" y="545.9" font-size="10.1" fill="#fff" textLength="27.8" lengthAdjust="spacing">70.00</text>
<text x="6.3" y="661.8" font-size="12" fill="#37474f">05.07.2022</text>
<text x="140.0" y="661.8" font-size="12" fill="#37474f">29.07.2022</text>
<text x="273.8" y="661.8" font-size="12" fill="#37474f">24.08.2022</text>
<text x="407.5" y="661.8" font-size="12" fill="#37474f">19.09.2022</text>
<text x="541.2" y="661.8" font-size="12" fill="#37474f">13.10.2022</text>
<text x="674.9" y="661.8" font-size="12" fill="#37474f">07.11.2022</text>
<text x="808.7" y="661.8" font-size="12" fill="#37474f">01.12.2022</text>
<text x="942.4" y="661.8" font-size="12" fill="#37474f">28.12.2022</text>
<text x="1076.1" y="661.8" font-size="12" fill="#37474f">24.01.2023</text>
<text x="1209.9" y="661.8" font-size="12" fill="#37474f">17.02.2023</text>
<text x="1343.6" y="661.8" font-size="12" fill="#37474f">14.03.2023</text>
<rect x="1421.5" y="56.5" width="3.2" height="3.2" fill="#fff"/>
<rect x="1426.9" y="56.5" width="1.4" height="3.2" fill="#fff"/>
<rect x="1421.5" y="94.5" width="3.2" height="2.2" fill="#fff"/>
<rect x="1426.9" y="94.5" width="1.4" height="2.2" fill="#fff"/>
<rect x="1421.5" y="52.9" width="6.2" height="4.0" fill="#fff"/>
<rect x="1421.5" y="86" width="6.2" height="8.7" fill="#fff"/>
<rect x="1436.3" y="89.1" width="6.4" height="8" fill="#fff"/>
<rect x="1421.5" y="123" width="6.2" height="4.9" fill="#fff"/>
<rect x="1421.5" y="129.3" width="6.7" height="5" fill="#fff"/>
<rect x="1421.5" y="160" width="6.8" height="8.9" fill="#fff"/>
<rect x="1421.5" y="196.5" width="7" height="6.2" fill="#fff"/>
<rect x="1428.6" y="201.1" width="6.9" height="7.6" fill="#fff"/>
<rect x="1421.5" y="233.5" width="7" height="7.1" fill="#fff"/>
<rect x="1428.7" y="456.5" width="6.8" height="8.4" fill="#fff"/>
<rect x="45.3" y="650" width="3.1" height="14" fill="#fff"/>
<rect x="289.3" y="650" width="3.1" height="14" fill="#fff"/>
<rect x="413.6" y="650" width="7.7" height="14" fill="#fff"/>
<rect x="549.6" y="650" width="5.6" height="14" fill="#fff"/>
<rect x="697.2" y="650" width="8" height="14" fill="#fff"/>
<rect x="815" y="650" width="16" height="10.6" fill="#fff"/>
<rect x="820" y="650" width="11" height="14" fill="#fff"/>
<rect x="982.6" y="650" width="3.1" height="9.5" fill="#fff"/>
<rect x="1099" y="650" width="7" height="14" fill="#fff"/>
<rect x="1226.4" y="650" width="3.2" height="14" fill="#fff"/>
<text x="20" y="27.2" font-size="10.5" font-weight="bold" fill="#455a64">OIL.WTI</text>
<text x="71" y="27" font-size="8.3" fill="#7a96a8" stroke="#7a96a8" stroke-width="0.25" textLength="17.8" lengthAdjust="spacingAndGlyphs">CMD</text>
<path d="M95.8 19.7 H104.2 L100 23.9 Z" fill="#c2c2c2"/>
<text transform="translate(141 27) scale(0.79 1)" font-size="9.9" fill="#4d565c">D1</text>
<path d="M158.8 21.8 H167.2 L163 26 Z" fill="#c2c2c2"/>
<path d="M5.9 639.4 H12.3 M6.3 643 H15.9" stroke="#c6c6c6" stroke-width="0.9" fill="none"/>
<path d="M20.6 637.2 L27.3 643.9 M27.3 637.2 L20.6 643.9" stroke="#b3b3b3" stroke-width="2.3" fill="none"/>
<text x="31.3" y="645.9" font-size="9.9" fill="#555" textLength="20.2" lengthAdjust="spacingAndGlyphs">EMA</text>
<text x="56.7" y="645.9" font-size="9.9" fill="#555" textLength="20.9" lengthAdjust="spacingAndGlyphs">[100,</text>
<text x="83.6" y="645.9" font-size="9.9" fill="#555" textLength="7.1" lengthAdjust="spacingAndGlyphs">0]</text>
<text x="101.6" y="645.9" font-size="9.9" fill="#555" textLength="18.9" lengthAdjust="spacingAndGlyphs">9.77</text>
</svg>
</body></html>
